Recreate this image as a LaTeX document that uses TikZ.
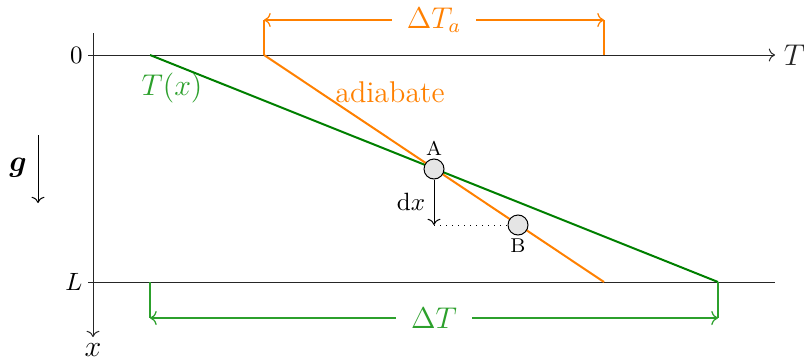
\documentclass[tikz,border=0pt]{standalone}
\usepackage{amsmath}
\usepackage{amssymb}
\usepackage{bm}
\usetikzlibrary{arrows.meta, positioning}
\definecolor{adiab}{HTML}{FF8000}
\definecolor{profile}{HTML}{008000}
\definecolor{span}{HTML}{2CA02C}

\begin{document}
\begin{tikzpicture}[
    x=0.4pt, y=-0.4pt,
    font=\normalsize,
    parcel/.style={circle, draw=black, fill=gray!20, inner sep=0pt, minimum size=8pt},
    lbl/.style={font=\large, inner sep=2pt},
    ax/.style={->, black!85},
    prof/.style={profile, thick},
    adl/.style={adiab, thick},
    brk/.style={line width=0.5pt}
  ]
    \useasboundingbox (0,0) rectangle (804,360);
    % axes
    \coordinate (xtop) at (93,33);
    \coordinate (xbot) at (93,337);
    \coordinate (t0) at (88,55);
    \coordinate (t1) at (775,55);
    \coordinate (l0) at (88,282);
    \coordinate (l1) at (775,282);
    \draw[ax] (xtop) -- (xbot);
    \node[font=\large, inner sep=0pt] (xl) at (93,350) {$x$};
    \draw[ax] (t0) -- (t1) node[right, font=\large] (tl) {$T$};
    \draw[black!85] (l0) -- (l1);
    \node[left, inner sep=2pt] (zero) at (t0) {$0$};
    \node[left, inner sep=2pt] (ell) at (l0) {$L$};
    % profiles
    \coordinate (g0) at (150,55);
    \coordinate (g1) at (718,282);
    \coordinate (a0) at (264,55);
    \coordinate (a1) at (604,282);
    \draw[prof] (g0) -- (g1);
    \draw[adl] (a0) -- (a1);
    \node[lbl, text=span] (tx) at (172,88) {$T(x)$};
    \node[lbl, text=adiab] (adl) at (390,92) {adiabate};
    % parcel
    \node[parcel] (A) at (434,169) {};
    \node[parcel] (B) at (518,225) {};
    \node[above, inner sep=1pt, font=\footnotesize] (Al) at (A.north) {A};
    \node[below, inner sep=1pt, font=\footnotesize] (Bl) at (B.south) {B};
    \coordinate (dxend) at (434,225);
    \draw[->] (A.south) -- node[left] {$\mathrm{d}x$} (dxend);
    \draw[dotted] (dxend) -- (B.west);
    % brackets
    \coordinate (ta0) at (264,20);
    \coordinate (ta1) at (604,20);
    \coordinate (ap) at (604,55);
    \draw[adiab, brk] (a0) -- (ta0);
    \draw[adiab, brk] (ap) -- (ta1);
    \draw[adiab, brk, <->] (ta0) -- node[lbl, fill=white, inner xsep=6pt] (dta) {$\Delta T_a$} (ta1);
    \coordinate (gp) at (150,282);
    \coordinate (tg0) at (150,318);
    \coordinate (tg1) at (718,318);
    \draw[span, brk] (gp) -- (tg0);
    \draw[span, brk] (g1) -- (tg1);
    \draw[span, brk, <->] (tg0) -- node[lbl, fill=white, inner xsep=6pt] (dt) {$\Delta T$} (tg1);
    % gravity
    \coordinate (gr0) at (38,135);
    \coordinate (gr1) at (38,203);
    \draw[->] (gr0) -- (gr1);
    \node[lbl] (gv) at (18,168) {$\bm{g}$};
  \end{tikzpicture}
\end{document}
